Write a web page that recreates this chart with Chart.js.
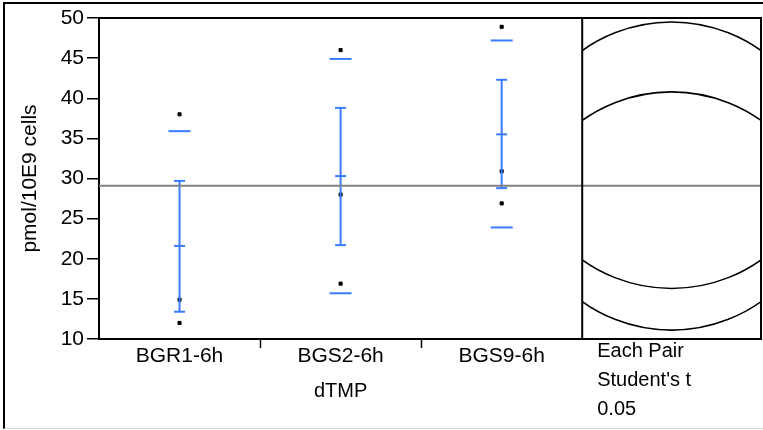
<!DOCTYPE html>
<html>
<head>
<meta charset="utf-8">
<script src="https://cdn.jsdelivr.net/npm/chart.js@4.4.1/dist/chart.umd.min.js"></script>
<style>
  html, body { margin: 0; padding: 0; background: #fff; }
  #wrap { position: relative; width: 763px; height: 430px; overflow: hidden; }
  #frame { position: absolute; left: 3px; top: 2px; width: 780px; height: 424px;
           border-top: 2px solid #000; border-left: 2px solid #000; border-bottom: 1px solid #d4d4d4; }
  #chart { position: absolute; left: 0; top: 0; }
</style>
</head>
<body>
<div id="wrap">
  <div id="frame"></div>
  <canvas id="chart" width="763" height="430"></canvas>
</div>
<script>
// Oneway analysis of dTMP
const categories = ['BGR1-6h', 'BGS2-6h', 'BGS9-6h'];
const values = [[38.0, 14.9, 12.0], [46.0, 28.0, 16.9], [48.9, 30.9, 26.9]];
const means = [21.6, 30.3, 35.5];
const errLow = [13.4, 21.7, 28.8];
const errHigh = [29.7, 38.8, 42.3];
const sdLow = [7.4, 15.7, 23.9];
const sdHigh = [35.9, 44.9, 47.2];
const grandMean = 29.1;
const circleRadius = 19.2;   // comparison circle radius, in y units
const compareLabel = ['Each Pair', "Student's t", '0.05'];

const BLUE = '#3a7bff';
const FONT = 'Arial, "Liberation Sans", sans-serif';
const xMax = 4.11;   // categories 0..3, comparison circle panel 3..xMax

const pointData = [];
values.forEach((vals, i) => vals.forEach(v => pointData.push({ x: i + 0.5, y: v })));

const errDatasets = categories.map((c, i) => ({
    type: 'line',
    data: [{ x: i + 0.5, y: errLow[i] }, { x: i + 0.5, y: errHigh[i] }],
    borderColor: BLUE,
    borderWidth: 2,
    pointStyle: 'line',
    pointRadius: 5.5,
    pointBorderWidth: 2,
    pointBorderColor: BLUE
}));

// frame, divider, separator ticks, comparison circles and extra labels
const oneWayExtras = {
    id: 'oneWayExtras',
    afterDatasetsDraw(chart) {
        const { ctx, chartArea: a } = chart;
        const xs = chart.scales.x, ys = chart.scales.y;
        const divX = xs.getPixelForValue(3);

        // comparison circles
        const cx = xs.getPixelForValue((3 + xMax) / 2);
        ctx.save();
        ctx.beginPath();
        ctx.rect(divX, a.top, a.right - divX, a.bottom - a.top);
        ctx.clip();
        ctx.strokeStyle = '#000';
        ctx.lineWidth = 1.6;
        means.forEach(m => {
            const cy = ys.getPixelForValue(m);
            const r = Math.abs(ys.getPixelForValue(m + circleRadius) - cy);
            ctx.beginPath();
            ctx.arc(cx, cy, r, 0, Math.PI * 2);
            ctx.stroke();
        });
        ctx.restore();

        ctx.save();
        ctx.strokeStyle = '#000';
        ctx.lineWidth = 2;
        ctx.beginPath();
        ctx.moveTo(a.left, a.top); ctx.lineTo(a.right, a.top); ctx.lineTo(a.right, a.bottom);
        ctx.moveTo(divX, a.top); ctx.lineTo(divX, a.bottom);
        ctx.stroke();

        // separator ticks between categories
        ctx.lineWidth = 1.5;
        [1, 2].forEach(v => {
            const px = Math.round(xs.getPixelForValue(v)) + 0.5;
            ctx.beginPath();
            ctx.moveTo(px, a.bottom);
            ctx.lineTo(px, a.bottom + 9);
            ctx.stroke();
        });

        ctx.fillStyle = '#000';
        ctx.font = '20px ' + FONT;
        ctx.textBaseline = 'alphabetic';
        ctx.textAlign = 'center';
        ctx.fillText('dTMP', xs.getPixelForValue(1.5), a.bottom + 58);
        ctx.textAlign = 'left';
        compareLabel.forEach((t, i) => ctx.fillText(t, divX + 15, a.bottom + 18 + i * 29));
        ctx.restore();
    }
};

new Chart(document.getElementById('chart'), {
    type: 'scatter',
    data: {
        datasets: [
            {
                type: 'line',
                data: [{ x: 0, y: grandMean }, { x: xMax, y: grandMean }],
                borderColor: '#808080',
                borderWidth: 2,
                pointRadius: 0
            },
            ...errDatasets,
            {
                data: means.map((m, i) => ({ x: i + 0.5, y: m })),
                pointStyle: 'line',
                pointRadius: 5.5,
                borderWidth: 2,
                borderColor: BLUE
            },
            {
                data: categories.map((c, i) => ({ x: i + 0.5, y: sdHigh[i] }))
                    .concat(categories.map((c, i) => ({ x: i + 0.5, y: sdLow[i] }))),
                pointStyle: 'line',
                pointRadius: 11,
                borderWidth: 2,
                borderColor: BLUE
            },
            {
                data: pointData,
                pointStyle: 'rect',
                pointRadius: 2.2,
                borderWidth: 1,
                backgroundColor: '#000',
                borderColor: '#000'
            }
        ]
    },
    options: {
        responsive: false,
        animation: false,
        events: [],
        layout: { autoPadding: false, padding: { left: 0, top: 18, right: 2, bottom: 0 } },
        plugins: { legend: { display: false }, tooltip: { enabled: false } },
        scales: {
            x: {
                type: 'linear',
                min: 0,
                max: xMax,
                afterBuildTicks: s => { s.ticks = categories.map((c, i) => ({ value: i + 0.5 })); },
                afterFit: s => { s.height = 91; s.paddingLeft = 0; s.paddingRight = 0; },
                ticks: {
                    callback: (v, i) => categories[i],
                    color: '#000',
                    font: { family: FONT, size: 21 },
                    padding: 5,
                    maxRotation: 0,
                    autoSkip: false
                },
                grid: { drawOnChartArea: false, drawTicks: false },
                border: { color: '#000', width: 2 }
            },
            y: {
                min: 10,
                max: 50,
                afterFit: s => { s.width = 99; },
                ticks: {
                    stepSize: 5,
                    color: '#000',
                    font: { family: FONT, size: 21 },
                    padding: 3
                },
                grid: { drawOnChartArea: false, drawTicks: true, tickLength: 12, color: '#000', lineWidth: 1.5 },
                border: { color: '#000', width: 2 },
                title: {
                    display: true,
                    text: 'pmol/10E9 cells',
                    color: '#000',
                    font: { family: FONT, size: 21 },
                    padding: { top: 18, bottom: 0 }
                }
            }
        }
    },
    plugins: [oneWayExtras]
});
</script>
</body>
</html>
